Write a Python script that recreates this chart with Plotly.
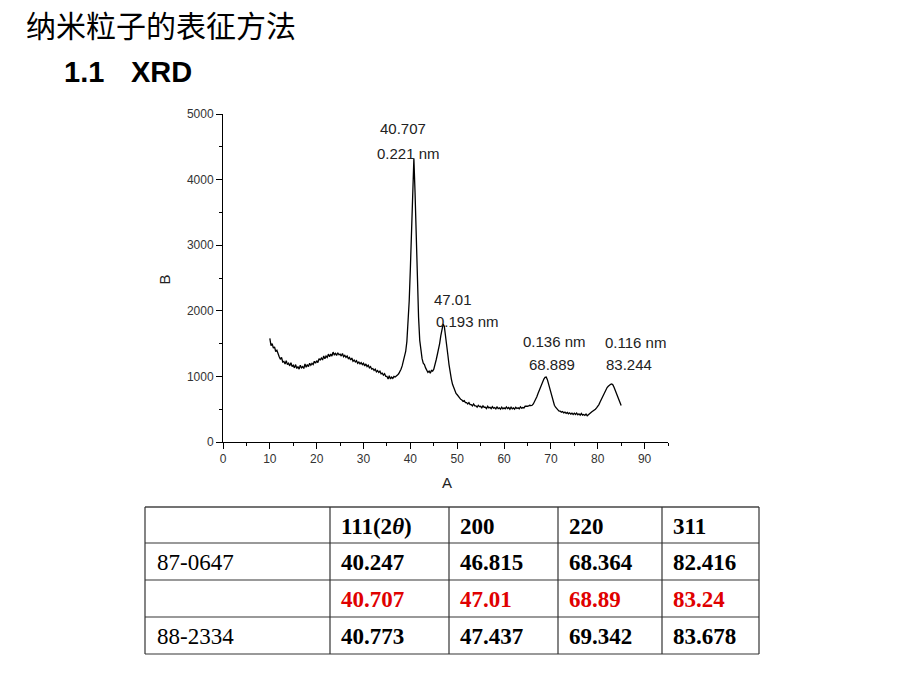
import plotly.graph_objects as go

# ---------------- data ----------------
two_theta_start = 10.0
two_theta_step = 0.25
intensity = [
    1580, 1470, 1500, 1430,  # 10
    1450, 1380, 1400, 1330,  # 11
    1300, 1260, 1290, 1220,  # 12
    1230, 1190, 1240, 1180,  # 13
    1200, 1160, 1210, 1150,  # 14
    1170, 1130, 1180, 1120,  # 15
    1150, 1110, 1170, 1130,  # 16
    1150, 1120, 1190, 1140,  # 17
    1180, 1150, 1200, 1170,  # 18
    1200, 1180, 1230, 1200,  # 19
    1240, 1210, 1270, 1250,  # 20
    1280, 1250, 1310, 1270,  # 21
    1310, 1290, 1340, 1300,  # 22
    1340, 1310, 1370, 1330,  # 23
    1350, 1320, 1360, 1330,  # 24
    1340, 1310, 1350, 1300,  # 25
    1320, 1290, 1310, 1270,  # 26
    1290, 1250, 1280, 1230,  # 27
    1250, 1220, 1240, 1200,  # 28
    1220, 1190, 1210, 1180,  # 29
    1200, 1160, 1190, 1150,  # 30
    1170, 1130, 1150, 1110,  # 31
    1120, 1090, 1110, 1070,  # 32
    1090, 1060, 1080, 1040,  # 33
    1050, 1020, 1040, 1000,  # 34
    1000, 960, 1010, 960,    # 35
    990, 970, 1000, 990,     # 36
    1000, 1020, 1040, 1070,  # 37
    1110, 1160, 1230, 1300,  # 38
    1380, 1530, 1780, 2150,  # 39
    2650, 3350, 4050, 4320,  # 40
    3800, 3100, 2400, 1900,  # 41
    1550, 1380, 1270, 1200,  # 42
    1180, 1130, 1100, 1060,  # 43
    1080, 1050, 1090, 1080,  # 44
    1110, 1170, 1250, 1330,  # 45
    1400, 1500, 1620, 1720,  # 46
    1800, 1760, 1640, 1500,  # 47
    1330, 1180, 1050, 960,   # 48
    880, 820, 780, 740,      # 49
    720, 690, 670, 650,      # 50
    640, 620, 630, 600,      # 51
    600, 580, 600, 570,      # 52
    570, 550, 580, 550,      # 53
    550, 530, 560, 540,      # 54
    545, 520, 550, 530,      # 55
    530, 510, 545, 520,      # 56
    530, 510, 540, 515,      # 57
    525, 505, 535, 510,      # 58
    520, 500, 530, 505,      # 59
    520, 505, 535, 510,      # 60
    525, 500, 530, 505,      # 61
    520, 500, 530, 510,      # 62
    520, 505, 535, 515,      # 63
    525, 520, 545, 540,      # 64
    545, 550, 560, 555,      # 65
    560, 580, 610, 650,      # 66
    690, 740, 790, 840,      # 67
    880, 920, 960, 985,      # 68
    990, 950, 890, 820,      # 69
    740, 670, 610, 560,      # 70
    530, 500, 490, 470,      # 71
    470, 455, 465, 445,      # 72
    455, 435, 450, 430,      # 73
    445, 425, 440, 420,      # 74
    440, 420, 440, 415,      # 75
    430, 410, 435, 410,      # 76
    420, 405, 425, 400,      # 77
    420, 430, 445, 460,      # 78
    470, 480, 500, 520,      # 79
    540, 570, 610, 650,      # 80
    690, 730, 770, 800,      # 81
    830, 850, 870, 880,      # 82
    885, 870, 830, 780,      # 83
    730, 680, 630, 590,      # 84
    555,                     # 85
]
two_theta = [two_theta_start + i * two_theta_step for i in range(len(intensity))]

peak_labels = ["40.707", "47.01", "68.889", "83.244"]
peak_d_spacing = ["0.221 nm", "0.193 nm", "0.136 nm", "0.116 nm"]

x_ticks = [0, 10, 20, 30, 40, 50, 60, 70, 80, 90]
y_ticks = [0, 1000, 2000, 3000, 4000, 5000]

table_header = ["", "111(2<i>θ</i>)", "200", "220", "311"]
table_row_names = ["87-0647", "", "88-2334"]
table_rows = [
    ["40.247", "46.815", "68.364", "82.416"],
    ["40.707", "47.01", "68.89", "83.24"],
    ["40.773", "47.437", "69.342", "83.678"],
]
table_row_colors = ["#000000", "#e00000", "#000000"]

# ---------------- layout helpers ----------------
W, H = 920, 690
OFF = 0  # page body margin removed via post_script
def px(x):
    return (x - OFF) / W
def py(y):
    return 1 - (y - OFF) / H

fig = go.Figure()
fig.add_trace(go.Scatter(x=two_theta, y=intensity, mode="lines",
                         line=dict(color="black", width=1.3), showlegend=False))

ann = []
def txt(x, y, s, size=15, color="#222", anchor="center", family="Liberation Sans, Arial"):
    ann.append(dict(x=px(x), y=py(y), xref="paper", yref="paper", text=s, showarrow=False,
                    xanchor=anchor, yanchor="middle",
                    font=dict(size=size, color=color, family=family)))

# peak labels (pixel layout)
peak_label_px = [((403, 128), (408, 153)), ((453, 299), (468, 321)),
                 ((552, 364), (554, 341)), ((629, 364), (635, 343))]
for lab, d, ((nx, ny), (dx, dy)) in zip(peak_labels, peak_d_spacing, peak_label_px):
    txt(nx, ny, lab)
    txt(dx, dy, d)

# Titles
txt(24, 24, "纳米粒子的表征方法", size=30, color="#000", anchor="left", family="Noto Sans CJK SC")
txt(62, 72, "<b>1.1</b>", size=29, color="#000", anchor="left")
txt(129, 72, "<b>XRD</b>", size=29, color="#000", anchor="left")

# axis titles
txt(447, 482, "A", size=15)
ann.append(dict(x=px(153), y=py(280), xref="paper", yref="paper", text="B", showarrow=False,
                textangle=-90, font=dict(size=15, color="#222", family="Liberation Sans, Arial")))

# ---------------- table ----------------
col_edges = [145, 330, 449, 558, 662, 759]
row_edges = [507, 543, 580, 617, 654]
shapes = []
for k, yv in enumerate(row_edges):
    shapes.append(dict(type="line", xref="paper", yref="paper", x0=px(col_edges[0]), x1=px(col_edges[-1]),
                       y0=py(yv), y1=py(yv), line=dict(color="#444" if k == 0 else "#777", width=1.5)))
for xv in col_edges:
    shapes.append(dict(type="line", xref="paper", yref="paper", x0=px(xv), x1=px(xv),
                       y0=py(row_edges[0]), y1=py(row_edges[-1]), line=dict(color="#333", width=1.2)))

serif = "Liberation Serif, Times New Roman, serif"
row_centers = [(row_edges[i] + row_edges[i + 1]) / 2 + 1 for i in range(4)]
for j, h in enumerate(table_header):
    if h:
        txt(col_edges[j] + 9, row_centers[0], "<b>" + h + "</b>", size=23, color="#000", anchor="left", family=serif)
for i, (name, vals, col) in enumerate(zip(table_row_names, table_rows, table_row_colors)):
    if name:
        txt(col_edges[0] + 10, row_centers[i + 1], name, size=23, color="#000", anchor="left", family=serif)
    for j, v in enumerate(vals):
        txt(col_edges[j + 1] + 9, row_centers[i + 1], "<b>" + v + "</b>", size=23, color=col, anchor="left", family=serif)

fig.update_layout(
    width=W, height=H, margin=dict(l=0, r=0, t=0, b=0),
    paper_bgcolor="white", plot_bgcolor="white",
    annotations=ann, shapes=shapes, showlegend=False,
    font=dict(family="Liberation Sans, Arial", color="#222"),
    xaxis=dict(domain=[px(223), px(668)], range=[0, 95], tickvals=x_ticks,
               showgrid=False, zeroline=False, showline=True, linecolor="black", linewidth=1,
               ticks="outside", ticklen=6, tickcolor="black", tickwidth=1,
               tickfont=dict(size=12, color="#333"),
               minor=dict(dtick=5, ticks="outside", ticklen=3, tickcolor="black"),
               automargin=False, fixedrange=True),
    yaxis=dict(domain=[py(442), py(114)], range=[0, 5000], tickvals=y_ticks,
               showgrid=False, zeroline=False, showline=True, linecolor="black", linewidth=1,
               ticks="outside", ticklen=6, tickcolor="black", tickwidth=1,
               tickfont=dict(size=12, color="#333"),
               minor=dict(dtick=500, ticks="outside", ticklen=3, tickcolor="black"),
               automargin=False, fixedrange=True),
)

fig.write_html("out.html", config={"displayModeBar": False},
               post_script="document.body.style.margin='0';document.body.style.padding='0';")
